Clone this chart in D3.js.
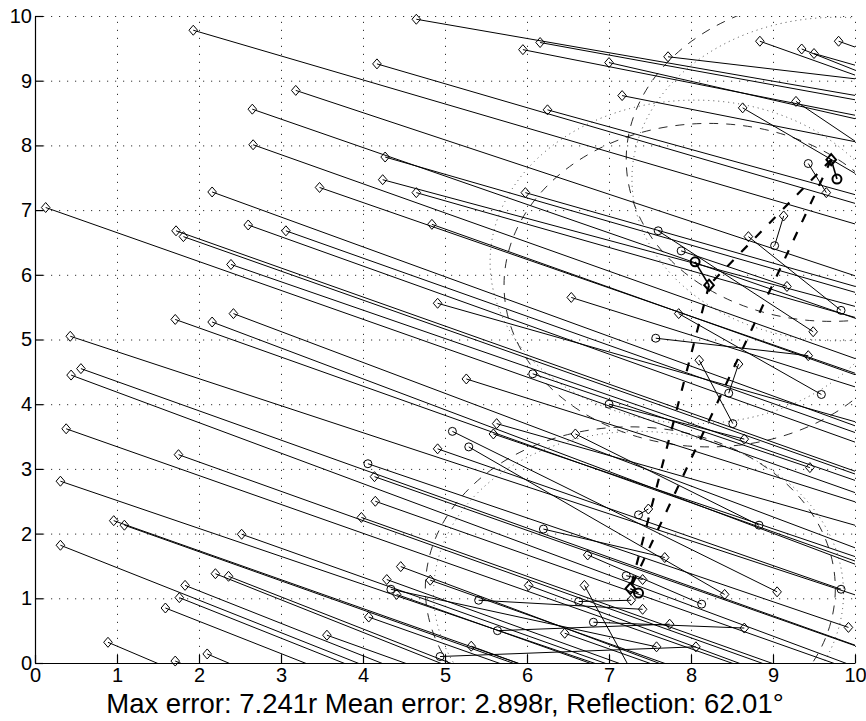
<!DOCTYPE html>
<html>
<head>
<meta charset="utf-8">
<script src="https://cdn.jsdelivr.net/npm/d3@7"></script>
<style>
  body { margin: 0; background: #fff; }
  text { font-family: "Liberation Sans", Arial, Helvetica, sans-serif; }
</style>
</head>
<body>
<svg id="chart" width="866" height="721"></svg>
<script>
// Axis ticks
const xTicks = [0, 1, 2, 3, 4, 5, 6, 7, 8, 9, 10];
const yTicks = [0, 1, 2, 3, 4, 5, 6, 7, 8, 9, 10];

// True node positions (diamonds)
const truePts = [
  [1.93, 9.78], [3.18, 8.85], [2.65, 8.56], [2.66, 8.01], [2.16, 7.28], [0.13, 7.04],
  [2.60, 6.77], [3.06, 6.68], [1.72, 6.68], [1.81, 6.59], [2.39, 6.16], [2.42, 5.40],
  [1.71, 5.31], [2.16, 5.27], [0.43, 5.05], [0.56, 4.55], [0.44, 4.45], [0.38, 3.62],
  [1.75, 3.22], [0.31, 2.81], [0.96, 2.20], [1.09, 2.13], [2.52, 1.99], [0.31, 1.82],
  [2.20, 1.38], [2.36, 1.34], [1.83, 1.20], [1.76, 1.01], [1.59, 0.85], [0.89, 0.32],
  [2.10, 0.14], [1.71, 0.03], [4.65, 9.95], [6.16, 9.59], [5.95, 9.48], [4.17, 9.26],
  [6.25, 8.55], [4.27, 7.82], [4.24, 7.47], [3.47, 7.35], [4.65, 7.27], [5.98, 7.27],
  [4.84, 6.78], [8.84, 9.61], [9.80, 9.61], [9.35, 9.49], [9.50, 9.42], [7.72, 9.37],
  [7.00, 9.28], [7.16, 8.77], [8.63, 8.58], [9.28, 8.68], [9.65, 7.27], [9.13, 6.91],
  [8.70, 6.59], [4.91, 5.56], [6.54, 5.65], [5.26, 4.39], [5.63, 3.70], [5.59, 3.54],
  [4.91, 3.31], [6.59, 3.54], [9.17, 5.82], [9.49, 5.12], [7.85, 5.40], [9.43, 4.75],
  [8.10, 4.68], [8.58, 4.62], [8.65, 3.46], [9.45, 3.02], [4.14, 2.88], [4.15, 2.50],
  [3.98, 2.25], [4.46, 1.49], [4.82, 1.28], [4.29, 1.29], [4.41, 1.06], [6.02, 1.20],
  [4.07, 0.71], [6.46, 0.46], [3.56, 0.43], [5.32, 0.26], [6.74, 1.67], [7.48, 2.38],
  [7.68, 1.63], [9.05, 1.10], [8.41, 1.06], [7.41, 1.29], [6.70, 1.20], [7.41, 0.83],
  [7.74, 0.60], [8.65, 0.54], [9.92, 0.55], [7.58, 0.25], [8.06, 0.25], [7.27, 0.97]
];

// Estimated node positions (circles), same order
const estPts = [
  [16.7, 4.30], [15.2, 3.80], [15.3, 3.00], [14.9, 2.50], [14.7, 1.50], [15.9, 0.00],
  [14.0, 1.60], [13.7, 1.90], [14.6, 0.90], [14.4, 0.95], [13.7, 1.20], [13.1, 0.30],
  [13.5, 0.00], [13.2, 0.00], [14.2, -0.70], [13.7, -1.40], [13.7, -1.80], [13.2, -2.10],
  [11.95, -1.40], [12.6, -2.50], [11.7, -2.60], [11.6, -2.60], [10.5, -1.60], [11.9, -4.00],
  [10.3, -2.70], [10.1, -2.50], [10.4, -3.10], [10.3, -3.30], [10.3, -3.50], [10.4, -4.80],
  [9.4, -3.80], [9.6, -3.90], [15.1, 7.65], [13.8, 7.83], [13.5, 7.59], [14.5, 5.44],
  [13.0, 6.19], [14.0, 4.27], [13.8, 4.22], [14.0, 2.72], [13.5, 4.08], [12.5, 4.92],
  [12.5, 3.33], [11.5, 8.41], [11.0, 9.07], [11.0, 8.66], [11.0, 8.88], [12.0, 8.73],
  [12.5, 7.69], [12.5, 7.43], [11.0, 6.83], [10.5, 7.64], [9.43, 7.72], [9.02, 6.45],
  [9.83, 5.45], [12.5, 2.83], [12.0, 3.47], [12.0, 1.69], [12.0, 1.41], [11.5, 1.00],
  [9.83, 1.14], [8.83, 2.13], [7.88, 6.37], [7.60, 6.68], [9.59, 4.15], [7.57, 5.02],
  [8.51, 3.70], [8.46, 4.17], [7.00, 4.00], [6.07, 4.47], [10.6, 0.00], [10.4, -0.30],
  [10.2, -0.55], [9.5, -0.90], [9.0, -0.60], [9.3, -1.00], [9.2, -1.10], [8.9, -0.15],
  [9.0, -1.50], [7.6, -0.05], [8.7, -1.90], [7.4, -0.70], [8.13, 0.91], [7.36, 2.29],
  [6.20, 2.07], [5.09, 3.58], [5.29, 3.34], [7.21, 1.35], [7.35, -0.30], [5.41, 0.97],
  [5.64, 0.50], [6.81, 0.63], [4.06, 3.08], [4.34, 1.14], [4.94, 0.10], [6.63, 0.95]
];

// Anchor nodes: true and estimated
const anchorTrue = [[9.71, 7.78], [8.22, 5.84], [7.26, 1.15]];
const anchorEst = [[9.78, 7.48], [8.05, 6.20], [7.36, 1.08]];
const rangeR = 2.5;

const titleText = "Max error: 7.241r Mean error: 2.898r, Reflection: 62.01°";

const svg = d3.select("#chart");
const W = 866, H = 721;
const x = d3.scaleLinear().domain([0, 10]).range([35, 855]);
const y = d3.scaleLinear().domain([0, 10]).range([663, 16]);

svg.append("rect").attr("width", W).attr("height", H).attr("fill", "#fff");

svg.append("defs").append("clipPath").attr("id", "plotClip")
  .append("rect")
  .attr("x", x(0)).attr("y", y(10))
  .attr("width", x(10) - x(0)).attr("height", y(0) - y(10));

// Dotted grid
const grid = svg.append("g").attr("stroke", "#333").attr("stroke-width", 1)
  .attr("stroke-dasharray", "1.2,6.8").attr("fill", "none");
grid.selectAll("line.v").data(xTicks.slice(1)).join("line")
  .attr("x1", d => x(d) + 0.5).attr("x2", d => x(d) + 0.5)
  .attr("y1", y(0)).attr("y2", y(10));
grid.selectAll("line.h").data(yTicks.slice(1)).join("line")
  .attr("x1", x(0)).attr("x2", x(10))
  .attr("y1", d => y(d) + 0.5).attr("y2", d => y(d) + 0.5);

const plot = svg.append("g").attr("clip-path", "url(#plotClip)");

const rx = x(rangeR) - x(0);
const ry = y(0) - y(rangeR);

// Range circles round the true anchors (dashed) and estimated anchors (dotted)
plot.selectAll("ellipse.trueRange").data(anchorTrue).join("ellipse")
  .attr("cx", d => x(d[0])).attr("cy", d => y(d[1]))
  .attr("rx", rx).attr("ry", ry)
  .attr("fill", "none").attr("stroke", "#111").attr("stroke-width", 0.9)
  .attr("stroke-dasharray", "9,8");
plot.selectAll("ellipse.estRange").data(anchorEst).join("ellipse")
  .attr("cx", d => x(d[0])).attr("cy", d => y(d[1]))
  .attr("rx", rx).attr("ry", ry)
  .attr("fill", "none").attr("stroke", "#333").attr("stroke-width", 0.9)
  .attr("stroke-dasharray", "1,4");

// Error lines from each true position to its estimate
plot.selectAll("line.err").data(truePts).join("line")
  .attr("x1", d => x(d[0])).attr("y1", d => y(d[1]))
  .attr("x2", (d, i) => x(estPts[i][0])).attr("y2", (d, i) => y(estPts[i][1]))
  .attr("stroke", "#000").attr("stroke-width", 1);

plot.selectAll("line.aerr").data(anchorTrue).join("line")
  .attr("x1", d => x(d[0])).attr("y1", d => y(d[1]))
  .attr("x2", (d, i) => x(anchorEst[i][0])).attr("y2", (d, i) => y(anchorEst[i][1]))
  .attr("stroke", "#000").attr("stroke-width", 1.6);

// Bold dashed triangle joining the anchors
const tri = [[0, 1], [0, 2], [1, 2]];
plot.selectAll("line.tri").data(tri).join("line")
  .attr("x1", d => x(anchorTrue[d[0]][0])).attr("y1", d => y(anchorTrue[d[0]][1]))
  .attr("x2", d => x(anchorTrue[d[1]][0])).attr("y2", d => y(anchorTrue[d[1]][1]))
  .attr("stroke", "#000").attr("stroke-width", 2.2)
  .attr("stroke-dasharray", "9,11");

const inside = p => p[0] >= 0 && p[0] <= 10 && p[1] >= 0 && p[1] <= 10;
const diamond = (cx, cy, w, h) => `M${cx},${cy - h}L${cx + w},${cy}L${cx},${cy + h}L${cx - w},${cy}Z`;

// Estimated positions
svg.append("g").selectAll("circle").data(estPts.filter(inside)).join("circle")
  .attr("cx", d => x(d[0])).attr("cy", d => y(d[1])).attr("r", 4)
  .attr("fill", "none").attr("stroke", "#000").attr("stroke-width", 1);

// True positions
svg.append("g").selectAll("path").data(truePts.filter(inside)).join("path")
  .attr("d", d => diamond(x(d[0]), y(d[1]), 4.3, 5))
  .attr("fill", "none").attr("stroke", "#000").attr("stroke-width", 1);

// Anchors in bold
svg.append("g").selectAll("circle").data(anchorEst).join("circle")
  .attr("cx", d => x(d[0])).attr("cy", d => y(d[1])).attr("r", 4.5)
  .attr("fill", "none").attr("stroke", "#000").attr("stroke-width", 2);
svg.append("g").selectAll("path").data(anchorTrue).join("path")
  .attr("d", d => diamond(x(d[0]), y(d[1]), 4.8, 5.5))
  .attr("fill", "none").attr("stroke", "#000").attr("stroke-width", 2);

// Axes
const fontSize = "20px";
const gx = svg.append("g").attr("transform", `translate(0,${y(0)})`)
  .call(d3.axisBottom(x).tickValues(xTicks).tickFormat(d3.format("d"))
    .tickSizeInner(-8).tickSizeOuter(0).tickPadding(5));
const gy = svg.append("g").attr("transform", `translate(${x(0)},0)`)
  .call(d3.axisLeft(y).tickValues(yTicks).tickFormat(d3.format("d"))
    .tickSizeInner(-8).tickSizeOuter(0).tickPadding(3));
[gx, gy].forEach(g => {
  g.select(".domain").attr("stroke", "#000").attr("stroke-width", 1.2);
  g.selectAll(".tick line").attr("stroke", "#000").attr("stroke-width", 1.2);
  g.selectAll(".tick text").attr("fill", "#000")
    .style("font-family", '"Liberation Sans", Arial, sans-serif').style("font-size", fontSize);
});

// Title below the axis
svg.append("text")
  .attr("x", 445).attr("y", 713)
  .attr("text-anchor", "middle")
  .style("font-size", "27.5px").attr("fill", "#000")
  .text(titleText);
</script>
</body>
</html>
